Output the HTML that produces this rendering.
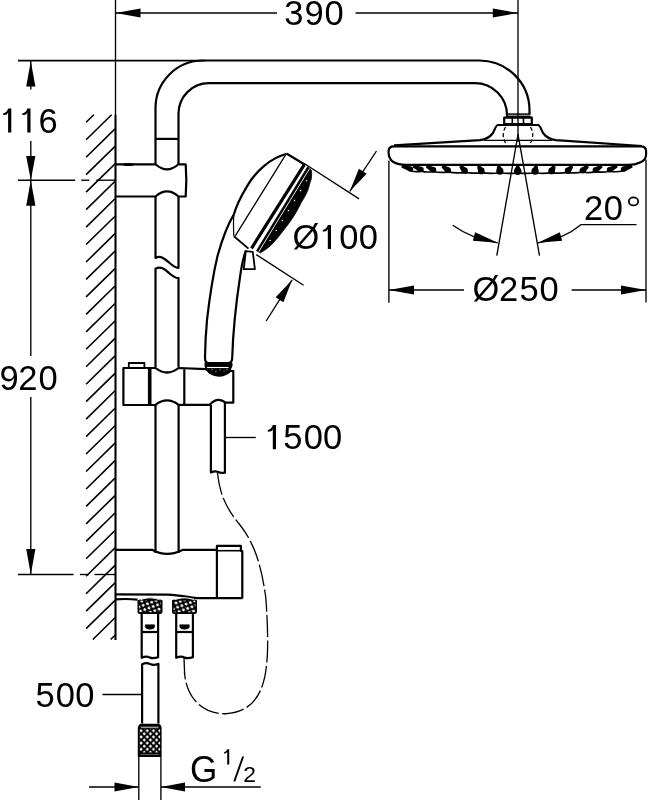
<!DOCTYPE html>
<html><head><meta charset="utf-8"><style>
html,body{margin:0;padding:0;background:#fff;}
svg{display:block;will-change:transform;}
text{font-family:"Liberation Sans",sans-serif;fill:#000;stroke:none;}
</style></head><body>
<svg width="648" height="800" viewBox="0 0 648 800" stroke="#000" stroke-linecap="butt" stroke-linejoin="round" fill="none">
<defs>
<pattern id="kp1" stroke="none" patternUnits="userSpaceOnUse" width="6.4" height="6.4" patternTransform="rotate(25)"><rect width="6.4" height="6.4" fill="#000"/><circle cx="1.6" cy="1.6" r="1.45" fill="#fff"/><circle cx="4.8" cy="4.8" r="1.45" fill="#fff"/></pattern>
<pattern id="kp2" stroke="none" patternUnits="userSpaceOnUse" width="6.2" height="6.2" x="141.1" y="730.7"><rect width="6.2" height="6.2" fill="#000"/><path d="M0 -1.7L1.7 0L0 1.7L-1.7 0Z M6.2 -1.7L7.9 0L6.2 1.7L4.5 0Z M0 4.5L1.7 6.2L0 7.9L-1.7 6.2Z M6.2 4.5L7.9 6.2L6.2 7.9L4.5 6.2Z M3.1 1.4L4.8 3.1L3.1 4.8L1.4 3.1Z" fill="#fff"/></pattern>
</defs>
<rect width="648" height="800" fill="#fff" stroke="none"/>
<line x1="115.50" y1="0.00" x2="115.50" y2="115.00" stroke-width="1.35" />
<line x1="518.00" y1="0.00" x2="518.00" y2="142.00" stroke-width="1.35" />
<line x1="115.50" y1="13.00" x2="277.00" y2="13.00" stroke-width="1.35" />
<line x1="355.60" y1="13.00" x2="518.00" y2="13.00" stroke-width="1.35" />
<polygon points="115.50,13.00 140.50,17.60 140.50,8.40" fill="#000" stroke="none" stroke-width="0"/>
<polygon points="518.00,13.00 492.80,8.40 492.80,17.60" fill="#000" stroke="none" stroke-width="0"/>
<text x="284.30" y="25.20" font-size="34.5">3</text>
<text x="304.40" y="25.20" font-size="34.5">9</text>
<text x="324.50" y="25.20" font-size="34.5">0</text>
<line x1="18.00" y1="60.60" x2="205.00" y2="60.60" stroke-width="1.7" />
<line x1="30.80" y1="60.50" x2="30.80" y2="89.50" stroke-width="1.35" />
<polygon points="30.80,61.20 26.20,86.50 35.40,86.50" fill="#000" stroke="none" stroke-width="0"/>
<path d="M8.10 108.50L11.30 108.50L11.30 132.60L8.10 132.60L8.10 112.60Q7.40 114.90 5.10 115.00L3.10 115.10L3.10 113.60Q7.10 112.30 8.10 108.50Z" fill="#000" stroke="none"/>
<path d="M27.30 108.50L30.50 108.50L30.50 132.60L27.30 132.60L27.30 112.60Q26.60 114.90 24.30 115.00L22.30 115.10L22.30 113.60Q26.30 112.30 27.30 108.50Z" fill="#000" stroke="none"/>
<text x="38.50" y="132.60" font-size="34.5">6</text>
<line x1="30.80" y1="141.00" x2="30.80" y2="180.00" stroke-width="1.35" />
<polygon points="30.80,180.20 35.40,156.00 26.20,156.00" fill="#000" stroke="none" stroke-width="0"/>
<line x1="18.00" y1="180.20" x2="75.20" y2="180.20" stroke-width="1.35" />
<line x1="81.20" y1="180.20" x2="89.30" y2="180.20" stroke-width="1.35" />
<line x1="96.30" y1="180.20" x2="115.00" y2="180.20" stroke-width="1.35" />
<polygon points="30.80,180.20 26.20,205.80 35.40,205.80" fill="#000" stroke="none" stroke-width="0"/>
<line x1="30.80" y1="180.00" x2="30.80" y2="356.00" stroke-width="1.35" />
<text x="-0.60" y="389.70" font-size="34.5">9</text>
<text x="18.20" y="389.70" font-size="34.5">2</text>
<text x="38.40" y="389.70" font-size="34.5">0</text>
<line x1="30.80" y1="397.00" x2="30.80" y2="574.50" stroke-width="1.35" />
<polygon points="30.80,574.50 35.40,549.00 26.20,549.00" fill="#000" stroke="none" stroke-width="0"/>
<line x1="18.00" y1="574.50" x2="73.50" y2="574.50" stroke-width="1.35" />
<line x1="80.00" y1="574.50" x2="89.00" y2="574.50" stroke-width="1.35" />
<line x1="94.50" y1="574.50" x2="115.00" y2="574.50" stroke-width="1.35" />
<line x1="115.50" y1="114.75" x2="115.50" y2="639.90" stroke-width="2.1" />
<path d="M86.10 122.30L93.80 114.75M86.10 139.76L111.62 114.75M86.10 157.22L115.00 128.90M86.10 174.68L115.00 146.36M86.10 192.14L115.00 163.82M86.10 209.60L115.00 181.28M86.10 227.06L115.00 198.74M86.10 244.52L115.00 216.20M86.10 261.98L115.00 233.66M86.10 279.44L115.00 251.12M86.10 296.90L115.00 268.58M86.10 314.36L115.00 286.04M86.10 331.82L115.00 303.50M86.10 349.28L115.00 320.96M86.10 366.74L115.00 338.42M86.10 384.20L115.00 355.88M86.10 401.66L115.00 373.34M86.10 419.12L115.00 390.80M86.10 436.58L115.00 408.26M86.10 454.04L115.00 425.72M86.10 471.50L115.00 443.18M86.10 488.96L115.00 460.64M86.10 506.42L115.00 478.10M86.10 523.88L115.00 495.56M86.10 541.34L115.00 513.02M86.10 558.80L115.00 530.48M86.10 576.26L115.00 547.94M86.10 593.72L115.00 565.40M86.10 611.18L115.00 582.86M86.10 628.64L115.00 600.32M92.83 639.50L115.00 617.78M110.65 639.50L115.00 635.24" stroke-width="1.6" fill="none" />
<path d="M155.5 164.3 L155.5 108 A47.5 47.5 0 0 1 203 60.5 L479.5 60.5 A50 50 0 0 1 529.5 110.5 L529.5 114" stroke-width="2.2" fill="none" />
<path d="M178.5 164.3 L178.5 113.6 A30.4 30.4 0 0 1 208.9 83.2 L475 83.2 A32 32 0 0 1 507 115.2 L507 114" stroke-width="2.2" fill="none" />
<line x1="155.50" y1="138.90" x2="178.50" y2="138.90" stroke-width="2.2" />
<line x1="506.00" y1="114.10" x2="530.50" y2="114.10" stroke-width="1.5" />
<line x1="506.00" y1="116.30" x2="530.50" y2="116.30" stroke-width="1.5" />
<rect x="504.2" y="117.6" width="27.6" height="6.4" fill="none" stroke-width="2.2"/>
<line x1="512.30" y1="117.60" x2="512.30" y2="124.00" stroke-width="1.6" />
<line x1="523.50" y1="117.60" x2="523.50" y2="124.00" stroke-width="1.6" />
<path d="M394 145.4 L480 140.2 C486 139.5 490 137 493 133 C495 129 496 125 498 125 L538 125 C540 125 541 129 543 133 C546 137 550 139.5 556 140.2 L641.9 146" stroke-width="2.2" fill="none" />
<line x1="484.00" y1="140.40" x2="552.00" y2="140.40" stroke-width="1.4" />
<path d="M505.5 127 Q501 135 505.5 143" stroke-width="1.3" fill="none" stroke-dasharray="4 2.5"/>
<path d="M530.5 127 Q535 135 530.5 143" stroke-width="1.3" fill="none" stroke-dasharray="4 2.5"/>
<path d="M394 146.4 L641 146.4 Q646.1 146.4 646.1 151.5 L646.1 154.4 Q646.1 160 640 162.5 Q635 164.9 628 164.9 L406 164.9 Q398 164.9 393 161.8 Q388.6 158.5 388.6 152.5 L388.6 151 Q388.6 146.4 394 146.4 Z" stroke-width="2.2" fill="none" />
<circle cx="410.60" cy="169.11" r="2.63" fill="#000" stroke="none"/>
<polygon points="411.48,166.64 402.34,164.59 401.33,167.41 409.72,171.59" fill="#000" stroke="none" stroke-width="0"/>
<path d="M410.60 170.71Q415.80 172.30 421.00 171.10" stroke-width="1.7"/>
<circle cx="421.00" cy="169.50" r="2.73" fill="#000" stroke="none"/>
<polygon points="422.11,167.00 413.69,164.63 412.48,167.37 419.89,172.00" fill="#000" stroke="none" stroke-width="0"/>
<path d="M421.00 171.10Q427.20 172.71 433.40 171.51" stroke-width="1.7"/>
<circle cx="433.40" cy="169.91" r="2.86" fill="#000" stroke="none"/>
<polygon points="434.81,167.42 427.24,164.69 425.76,167.31 431.99,172.39" fill="#000" stroke="none" stroke-width="0"/>
<path d="M433.40 171.51Q440.70 173.12 448.00 171.92" stroke-width="1.7"/>
<circle cx="448.00" cy="170.32" r="3.00" fill="#000" stroke="none"/>
<polygon points="449.81,167.92 443.20,164.80 441.39,167.20 446.19,172.71" fill="#000" stroke="none" stroke-width="0"/>
<path d="M448.00 171.92Q456.35 173.49 464.70 172.29" stroke-width="1.7"/>
<circle cx="464.70" cy="170.69" r="3.17" fill="#000" stroke="none"/>
<polygon points="467.03,168.54 461.46,164.98 459.26,167.02 462.37,172.84" fill="#000" stroke="none" stroke-width="0"/>
<path d="M464.70 172.29Q473.00 173.76 481.30 172.56" stroke-width="1.7"/>
<circle cx="481.30" cy="170.96" r="3.34" fill="#000" stroke="none"/>
<polygon points="484.16,169.24 479.61,165.23 477.04,166.77 478.44,172.68" fill="#000" stroke="none" stroke-width="0"/>
<path d="M481.30 172.56Q490.60 173.94 499.90 172.74" stroke-width="1.7"/>
<circle cx="499.90" cy="171.14" r="3.52" fill="#000" stroke="none"/>
<polygon points="503.29,170.18 499.89,165.59 497.00,166.41 496.51,172.10" fill="#000" stroke="none" stroke-width="0"/>
<path d="M499.90 172.74Q508.80 174.00 517.70 172.80" stroke-width="1.7"/>
<circle cx="517.70" cy="171.20" r="3.70" fill="#000" stroke="none"/>
<polygon points="521.40,171.20 519.20,166.00 516.20,166.00 514.00,171.20" fill="#000" stroke="none" stroke-width="0"/>
<path d="M517.70 172.80Q526.35 174.00 535.00 172.75" stroke-width="1.7"/>
<circle cx="535.00" cy="171.15" r="3.53" fill="#000" stroke="none"/>
<polygon points="538.40,172.08 537.86,166.40 534.97,165.60 531.60,170.21" fill="#000" stroke="none" stroke-width="0"/>
<path d="M535.00 172.75Q543.30 173.95 551.60 172.59" stroke-width="1.7"/>
<circle cx="551.60" cy="170.99" r="3.36" fill="#000" stroke="none"/>
<polygon points="554.54,172.62 555.68,166.73 553.06,165.27 548.66,169.36" fill="#000" stroke="none" stroke-width="0"/>
<path d="M551.60 172.59Q559.80 173.79 568.00 172.34" stroke-width="1.7"/>
<circle cx="568.00" cy="170.74" r="3.20" fill="#000" stroke="none"/>
<polygon points="570.41,172.84 573.25,166.98 570.98,165.02 565.59,168.64" fill="#000" stroke="none" stroke-width="0"/>
<path d="M568.00 172.34Q575.35 173.54 582.70 172.03" stroke-width="1.7"/>
<circle cx="582.70" cy="170.43" r="3.05" fill="#000" stroke="none"/>
<polygon points="584.65,172.77 588.98,167.15 587.06,164.85 580.75,168.09" fill="#000" stroke="none" stroke-width="0"/>
<path d="M582.70 172.03Q589.10 173.23 595.50 171.70" stroke-width="1.7"/>
<circle cx="595.50" cy="170.10" r="2.92" fill="#000" stroke="none"/>
<polygon points="597.08,172.56 602.68,167.26 601.05,164.74 593.92,167.64" fill="#000" stroke="none" stroke-width="0"/>
<path d="M595.50 171.70Q602.55 172.90 609.60 171.26" stroke-width="1.7"/>
<circle cx="609.60" cy="169.66" r="2.78" fill="#000" stroke="none"/>
<polygon points="610.82,172.16 617.78,167.35 616.46,164.65 608.38,167.16" fill="#000" stroke="none" stroke-width="0"/>
<path d="M609.60 171.26Q616.55 172.46 623.50 170.76" stroke-width="1.7"/>
<circle cx="623.50" cy="169.16" r="2.64" fill="#000" stroke="none"/>
<polygon points="624.41,171.65 632.67,167.41 631.64,164.59 622.59,166.68" fill="#000" stroke="none" stroke-width="0"/>
<path d="M405.5 166 Q407 168.5 410.6 169.5 M623.5 169.5 Q628 168.5 631.5 166" stroke-width="1.7" fill="none" />
<line x1="518.00" y1="134.40" x2="496.80" y2="255.70" stroke-width="1.35" />
<line x1="518.00" y1="134.40" x2="539.50" y2="255.70" stroke-width="1.35" />
<path d="M452.8 225.2 Q472 239 497.8 242.8" stroke-width="1.35" fill="none" />
<polygon points="497.80,242.80 475.10,232.34 472.90,240.66" fill="#000" stroke="none" stroke-width="0"/>
<path d="M537.9 242.8 Q563.5 239.5 581.2 224.6 L636.5 224.6" stroke-width="1.35" fill="none" />
<polygon points="537.90,242.80 562.13,240.65 559.87,232.35" fill="#000" stroke="none" stroke-width="0"/>
<text x="583.90" y="219.50" font-size="34.5">2</text>
<text x="603.70" y="219.50" font-size="34.5">0</text>
<ellipse cx="633.5" cy="201.45" rx="4.7" ry="4.0" fill="none" stroke-width="1.8"/>
<line x1="388.90" y1="160.50" x2="388.90" y2="302.70" stroke-width="1.35" />
<line x1="646.00" y1="159.60" x2="646.00" y2="302.50" stroke-width="1.35" />
<line x1="388.90" y1="290.00" x2="464.00" y2="290.00" stroke-width="1.35" />
<line x1="571.60" y1="290.00" x2="646.00" y2="290.00" stroke-width="1.35" />
<polygon points="388.90,290.00 414.00,294.60 414.00,285.40" fill="#000" stroke="none" stroke-width="0"/>
<polygon points="646.00,290.00 621.00,285.40 621.00,294.60" fill="#000" stroke="none" stroke-width="0"/>
<text x="472.40" y="301.30" font-size="34.5">Ø</text>
<text x="499.00" y="301.30" font-size="34.5">2</text>
<text x="519.40" y="301.30" font-size="34.5">5</text>
<text x="539.50" y="301.30" font-size="34.5">0</text>
<path d="M115.5 164.3 L155.5 164.3 Q167 174.6 178.5 164.3 L185.7 164.3 Q187 180 185.7 196.5 L178.5 196.5 Q167 186.3 155.5 196.5 L115.5 196.5" stroke-width="2.2" fill="none" />
<ellipse cx="128.5" cy="164.4" rx="5.5" ry="1.5" fill="#000" stroke="none"/>
<path d="M155.5 196.5 L155.5 258 C161 255 165 259 169 262.5 C173 266 176 268 178.5 267.8 L178.5 196.5" stroke-width="2.2" fill="none" />
<path d="M155.5 367.3 L155.5 268.7 C161 265.7 165 269.5 169 273 C173 276.5 176 278.3 178.5 278 L178.5 367.3" stroke-width="2.2" fill="none" />
<path d="M123.4 405 L123.4 368 L155.5 368 Q167 377 178.6 368 L206.3 369.2 Q218 381 230.6 370.8 L233.3 371 L233.3 402.7 L225.8 402.7 Q217.5 396 209.6 404.8 L178.6 404.8 Q167 396 155.5 404.8 Z" stroke-width="2.2" fill="none" />
<rect x="148.4" y="368" width="2.6" height="37" fill="#000"/>
<line x1="184.30" y1="369.20" x2="184.30" y2="404.80" stroke-width="2.2" />
<path d="M128.8 368 L128.8 363 L144.4 363 L144.4 368" stroke-width="1.8" fill="none" />
<path d="M155.5 404.8 L155.5 553 M178.6 404.8 L178.6 553" stroke-width="2.2" fill="none" />
<path d="M115.5 549.8 L152 549.8 Q167 558 183 549.8 L215.9 549.8" stroke-width="2.2" fill="none" />
<path d="M115.5 594.4 L168 594.6 C181 595 188 597.6 197 598.2 L242.3 598.2" stroke-width="2.2" fill="none" />
<path d="M115.5 599.3 Q127 598.6 137.5 599.6" stroke-width="2.2" fill="none" />
<path d="M216.9 598.4 L216.9 545.9 L240.9 545.9 L240.9 551 L242.3 551 L242.3 598.4" stroke-width="2.2" fill="none" />
<line x1="218.00" y1="550.70" x2="240.90" y2="550.70" stroke-width="1.6" />
<path d="M233.9 214.4 C228 224 222 240 217.5 256 C213 275 209.3 300 207.0 320 C205.6 335 205.1 350 205 358 Q205 363.1 209 363.1 L228 363.1 Q232 363.1 232.2 358 C233 330 236.5 300 240.3 275 Q242.5 260 245.8 250.5" stroke-width="2.2" fill="none" />
<rect x="205" y="362.8" width="27" height="3.2" fill="#000"/>
<path d="M205 366 L232 366 Q229 375.5 218 375.5 Q207 375.5 205 366 Z" stroke-width="1" fill="#000" />
<line x1="207.00" y1="367.50" x2="228.60" y2="367.50" stroke-width="1.1" stroke="#fff"/>
<circle cx="212" cy="369.5" r="0.9" fill="#fff"/>
<circle cx="216" cy="371.5" r="0.9" fill="#fff"/>
<circle cx="220" cy="369.5" r="0.9" fill="#fff"/>
<circle cx="224" cy="371" r="0.9" fill="#fff"/>
<circle cx="227" cy="369.5" r="0.9" fill="#fff"/>
<path d="M245.8 251.1 L252.8 251.8 L254.9 269.2 L243.75 269.2 Z" stroke-width="1.8" fill="none" />
<path d="M286.9 153.8 C270 158 255 172 246.7 186.9 C240 198 236 207 233.9 214.4" stroke-width="2.2" fill="none" />
<path d="M233.9 214.4 C233.2 222 233.5 230 233.9 236.2" stroke-width="1.2" fill="none" />
<path d="M233.9 236.2 L248.5 248.6" stroke-width="1.9" fill="none" />
<line x1="286.90" y1="153.80" x2="305.00" y2="164.70" stroke-width="2.2" />
<line x1="285.60" y1="154.90" x2="235.30" y2="235.80" stroke-width="1.3" />
<line x1="304.30" y1="164.70" x2="251.50" y2="248.30" stroke-width="3.2" />
<path d="M307.6 166.8 L311.2 170.0 C312.2 174 311.6 180 310 182.5 C309 187 307.8 191 306.25 193.75 C304.5 197 303 200 301.25 202.5 C299 207 296.5 212 293.75 216.25 C290.5 221 287.5 225.5 283.75 230 C280 235 275.5 240.5 271.25 245 C268 248 264.5 250.5 260.5 252.8 L256.5 250.8 Z" stroke-width="0.8" fill="#000" />
<line x1="309.60" y1="168.60" x2="258.80" y2="251.60" stroke-width="0.9" stroke="#fff"/>
<circle cx="306.7" cy="180.8" r="1.15" fill="#fff"/>
<circle cx="300.6" cy="190.7" r="1.15" fill="#fff"/>
<circle cx="294.5" cy="200.7" r="1.15" fill="#fff"/>
<circle cx="288.4" cy="210.6" r="1.15" fill="#fff"/>
<circle cx="282.3" cy="220.6" r="1.15" fill="#fff"/>
<circle cx="276.2" cy="230.6" r="1.15" fill="#fff"/>
<circle cx="270.1" cy="240.5" r="1.15" fill="#fff"/>
<line x1="305.00" y1="164.00" x2="359.10" y2="198.90" stroke-width="1.35" />
<line x1="256.25" y1="254.60" x2="303.60" y2="285.30" stroke-width="1.35" />
<line x1="376.50" y1="151.00" x2="349.80" y2="191.30" stroke-width="1.35" />
<polygon points="349.80,191.30 366.66,173.70 358.94,168.70" fill="#000" stroke="none" stroke-width="0"/>
<line x1="266.20" y1="321.00" x2="292.10" y2="279.90" stroke-width="1.35" />
<polygon points="292.10,279.90 275.61,297.34 283.39,302.26" fill="#000" stroke="none" stroke-width="0"/>
<text x="292.40" y="249.00" font-size="34.5">Ø</text>
<path d="M327.80 224.90L331.00 224.90L331.00 249.00L327.80 249.00L327.80 229.00Q327.10 231.30 324.80 231.40L322.80 231.50L322.80 230.00Q326.80 228.70 327.80 224.90Z" fill="#000" stroke="none"/>
<text x="339.20" y="249.00" font-size="34.5">0</text>
<text x="358.80" y="249.00" font-size="34.5">0</text>
<path d="M210.9 404.8 L210.9 472.5 C213 471.5 215 470.5 217.5 471.8 C220 473 222.5 473.2 224.9 472.6 L224.9 402.2" stroke-width="2.2" fill="none" />
<line x1="224.80" y1="437.50" x2="255.75" y2="437.50" stroke-width="1.35" />
<path d="M272.80 425.10L276.00 425.10L276.00 449.20L272.80 449.20L272.80 429.20Q272.10 431.50 269.80 431.60L267.80 431.70L267.80 430.20Q271.80 428.90 272.80 425.10Z" fill="#000" stroke="none"/>
<text x="283.20" y="449.20" font-size="34.5">5</text>
<text x="303.80" y="449.20" font-size="34.5">0</text>
<text x="323.10" y="449.20" font-size="34.5">0</text>
<path d="M217.5 473 C220 495 226 508 240 525 C256 545 262 570 265.75 597.5 C268 625 268 650 267 660 C265 690 255 712 225.75 713.75 C200 714 186 695 184.5 672.5" stroke-width="1.3" fill="none" stroke-dasharray="22 3.5"/>
<path d="M184 658 L184.6 674" stroke-width="1.3" fill="none" />
<path d="M137.5 611.8 L137.5 600.3 Q150.0 594.8 162.5 600.3 L162.5 611.8 Q162.5 614 160.3 614 L139.7 614 Q137.5 614 137.5 611.8 Z" fill="#000" stroke="none"/>
<path d="M140.5 599.6 Q150.0 596.0 159.5 599.6" stroke="#fff" stroke-width="1.1"/>
<rect x="139.1" y="600.6" width="21.8" height="11.6" fill="url(#kp1)" stroke="none"/>
<path d="M172.0 611.8 L172.0 600.3 Q184.5 594.8 197.0 600.3 L197.0 611.8 Q197.0 614 194.8 614 L174.2 614 Q172.0 614 172.0 611.8 Z" fill="#000" stroke="none"/>
<path d="M175.0 599.6 Q184.5 596.0 194.0 599.6" stroke="#fff" stroke-width="1.1"/>
<rect x="173.6" y="600.6" width="21.8" height="11.6" fill="url(#kp1)" stroke="none"/>
<path d="M141.7 614 L141.7 657.8 C145.7 656 147.89999999999998 656.5 149.89999999999998 657.6 C152.89999999999998 658.6 154.1 658.4 158.1 657.2 L158.1 614" stroke-width="2.2" fill="none" />
<line x1="141.70" y1="632.00" x2="158.10" y2="632.00" stroke-width="2.2" />
<path d="M145.29999999999998 624.8 L154.5 624.8 L154.5 627 Q154.1 629.2 149.89999999999998 629.2 Q145.7 629.2 145.29999999999998 627 Z" stroke-width="0.6" fill="#000" />
<path d="M176.2 614 L176.2 657.8 C180.2 656 182.55 656.5 184.55 657.6 C187.55 658.6 188.9 658.4 192.9 657.2 L192.9 614" stroke-width="2.2" fill="none" />
<line x1="176.20" y1="632.00" x2="192.90" y2="632.00" stroke-width="2.2" />
<path d="M179.79999999999998 624.8 L189.3 624.8 L189.3 627 Q188.9 629.2 184.55 629.2 Q180.2 629.2 179.79999999999998 627 Z" stroke-width="0.6" fill="#000" />
<path d="M142.1 723.5 L142.1 664.2 C146 662.5 148 663 150 664 C153 665.3 156 665 158.4 663.8 L158.4 723.5" stroke-width="2.2" fill="none" />
<line x1="102.50" y1="694.50" x2="142.10" y2="694.50" stroke-width="1.35" />
<text x="35.60" y="707.00" font-size="34.5">5</text>
<text x="55.70" y="707.00" font-size="34.5">0</text>
<text x="75.20" y="707.00" font-size="34.5">0</text>
<path d="M137.8 756.9000000000001 L137.8 727.7 Q137.8 725.2 140.3 723.7 L159.10000000000002 723.7 Q161.60000000000002 725.2 161.60000000000002 727.7 L161.60000000000002 756.9000000000001 Z" fill="#000" stroke="none"/>
<rect x="139.3" y="728.5" width="20.8" height="23.900000000000002" fill="url(#kp2)" stroke="none"/>
<rect x="140.4" y="726.2" width="18.6" height="1.9" fill="#fff"/>
<rect x="140.0" y="753.5000000000001" width="19.4" height="1.4" fill="#fff"/>
<line x1="138.80" y1="757.00" x2="138.80" y2="800.00" stroke-width="1.35" />
<line x1="160.90" y1="757.00" x2="160.90" y2="800.00" stroke-width="1.35" />
<line x1="89.00" y1="787.00" x2="138.80" y2="787.00" stroke-width="1.35" />
<polygon points="138.80,787.00 114.50,782.40 114.50,791.60" fill="#000" stroke="none" stroke-width="0"/>
<line x1="160.90" y1="787.00" x2="260.75" y2="787.00" stroke-width="1.35" />
<polygon points="160.90,787.00 185.00,791.60 185.00,782.40" fill="#000" stroke="none" stroke-width="0"/>
<text x="0" y="0" font-size="37" transform="translate(190.1 781.7) scale(0.95 1)">G</text>
<path d="M227.20 749.23L229.24 749.23L229.24 764.60L227.20 764.60L227.20 751.85Q226.76 753.31 225.29 753.38L224.01 753.44L224.01 752.48Q226.56 751.66 227.20 749.23Z" fill="#000" stroke="none"/>
<polygon points="233.30,781.60 235.30,781.60 244.10,756.50 242.10,756.50" fill="#000" stroke="none" stroke-width="0"/>
<text x="0" y="0" font-size="22" transform="translate(243.3 781.6) scale(1.04 1)">2</text>
</svg>
</body></html>
